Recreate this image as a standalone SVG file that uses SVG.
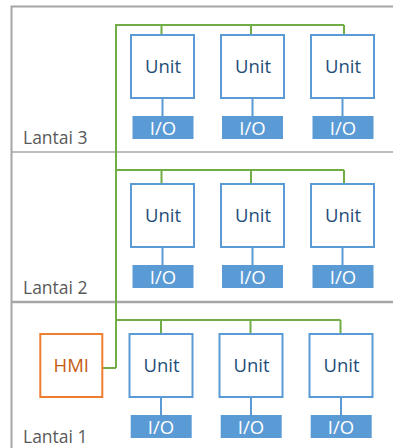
<svg xmlns="http://www.w3.org/2000/svg" width="393" height="448" viewBox="0 0 393 448">
  <style>
    .frame { fill: none; stroke: #A6A6A6; }
    .bus { fill: none; stroke: #70AD47; stroke-width: 2; }
    .link { fill: none; stroke: #5B9BD5; stroke-width: 2; }
    .unit rect { fill: #FFFFFF; stroke: #5B9BD5; stroke-width: 2; }
    .unit text { font-family: "Open Sans", "Noto Sans", sans-serif; font-size: 18.5px; fill: #1F4E79; text-anchor: middle; }
    .io rect { fill: #5B9BD5; }
    .io text { font-family: "Open Sans", "Noto Sans", sans-serif; font-size: 18.5px; fill: #FFFFFF; text-anchor: middle; }
    .hmi rect { fill: #FFFFFF; stroke: #ED7D31; stroke-width: 2; }
    .hmi text { font-family: "Open Sans", "Noto Sans", sans-serif; font-size: 18.5px; fill: #C55A11; text-anchor: middle; }
    .floor { font-family: "Open Sans", "Noto Sans", sans-serif; font-size: 17.5px; fill: #595959; }
  </style>

  <!-- building outline and floor dividers -->
  <g id="building">
    <path class="frame" stroke-width="2" d="M11.5 448 V6.5 H393"/>
    <line class="frame" stroke-width="1.5" x1="11.5" y1="152" x2="393" y2="152"/>
    <line class="frame" stroke-width="2.5" x1="11.5" y1="302" x2="393" y2="302"/>
    <text class="floor" x="23" y="144">Lantai 3</text>
    <text class="floor" x="23" y="294">Lantai 2</text>
    <text class="floor" x="23" y="443">Lantai 1</text>
  </g>

  <!-- network bus and I/O links -->
  <g id="connectors">
    <path class="bus" d="M116 368 V25 H344 M161.5 25 V34 M251 25 V34 M344 25 V34"/>
    <path class="bus" d="M116 170 H344 M161.5 170 V183 M251 170 V183 M344 170 V183"/>
    <path class="bus" d="M103 368 H116 M116 320 H340.5 M161 320 V333 M250.5 320 V333 M340.5 320 V333"/>
    <path class="link" d="M162.5 99 V116 M252.5 99 V116 M342.5 99 V116"/>
    <path class="link" d="M162.5 248 V265 M252.5 248 V265 M342.5 248 V265"/>
    <path class="link" d="M161 398 V415 M251 398 V415 M341 398 V415"/>
  </g>

  <!-- Lantai 3 -->
  <g id="unit-3a" class="unit"><rect x="131" y="35" width="63" height="63"/><text x="163" y="73">Unit</text></g>
  <g id="unit-3b" class="unit"><rect x="221" y="35" width="63" height="63"/><text x="253" y="73">Unit</text></g>
  <g id="unit-3c" class="unit"><rect x="311" y="35" width="63" height="63"/><text x="343" y="73">Unit</text></g>
  <g id="io-3a" class="io"><rect x="132.5" y="116" width="61" height="23"/><text x="163" y="135">I/O</text></g>
  <g id="io-3b" class="io"><rect x="222" y="116" width="61" height="23"/><text x="252.5" y="135">I/O</text></g>
  <g id="io-3c" class="io"><rect x="312.5" y="116" width="61" height="23"/><text x="343" y="135">I/O</text></g>

  <!-- Lantai 2 -->
  <g id="unit-2a" class="unit"><rect x="131" y="184" width="63" height="63"/><text x="163" y="222">Unit</text></g>
  <g id="unit-2b" class="unit"><rect x="221" y="184" width="63" height="63"/><text x="253" y="222">Unit</text></g>
  <g id="unit-2c" class="unit"><rect x="311" y="184" width="63" height="63"/><text x="343" y="222">Unit</text></g>
  <g id="io-2a" class="io"><rect x="132.5" y="265" width="61" height="23"/><text x="163" y="284">I/O</text></g>
  <g id="io-2b" class="io"><rect x="222" y="265" width="61" height="23"/><text x="252.5" y="284">I/O</text></g>
  <g id="io-2c" class="io"><rect x="312.5" y="265" width="61" height="23"/><text x="343" y="284">I/O</text></g>

  <!-- Lantai 1 -->
  <g id="hmi" class="hmi"><rect x="40.3" y="334" width="62" height="63"/><text x="71.3" y="372">HMI</text></g>
  <g id="unit-1a" class="unit"><rect x="129.5" y="334" width="63" height="63"/><text x="161.5" y="372">Unit</text></g>
  <g id="unit-1b" class="unit"><rect x="219.5" y="334" width="63" height="63"/><text x="251.5" y="372">Unit</text></g>
  <g id="unit-1c" class="unit"><rect x="309.5" y="334" width="63" height="63"/><text x="341.5" y="372">Unit</text></g>
  <g id="io-1a" class="io"><rect x="130.7" y="415" width="61" height="23"/><text x="161" y="434">I/O</text></g>
  <g id="io-1b" class="io"><rect x="220.7" y="415" width="61" height="23"/><text x="251" y="434">I/O</text></g>
  <g id="io-1c" class="io"><rect x="310.7" y="415" width="61" height="23"/><text x="341" y="434">I/O</text></g>
</svg>
